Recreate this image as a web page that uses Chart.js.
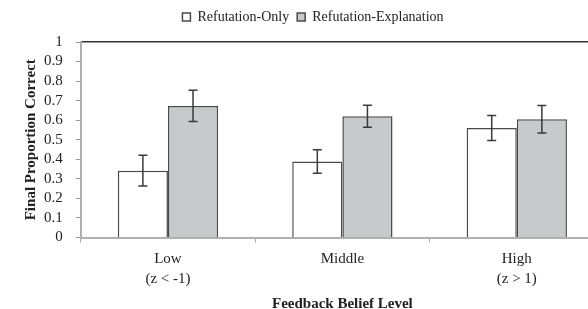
<!DOCTYPE html>
<html>
<head>
<meta charset="utf-8">
<script src="https://cdn.jsdelivr.net/npm/chart.js@4/dist/chart.umd.min.js"></script>
<style>
    html, body { margin: 0; padding: 0; background: #fff; }
    #wrap { width: 588px; height: 309px; overflow: hidden; position: relative; }
    #box { width: 620px; height: 309px; }
</style>
</head>
<body>
<div id="wrap"><div id="box"><canvas id="chart-feedback"></canvas></div></div>
<script>
// values
const categorias = [['Low', '(z < -1)'], ['Middle'], ['High', '(z > 1)']];
const refutacionSolo = [0.342, 0.389, 0.560];
const refutacionSoloError = [0.079, 0.060, 0.064];
const refutacionExplicacion = [0.673, 0.620, 0.605];
const refutacionExplicacionError = [0.080, 0.056, 0.070];
const ticksY = [0, 0.1, 0.2, 0.3, 0.4, 0.5, 0.6, 0.7, 0.8, 0.9, 1];

const fuente = 'Liberation Serif';

// error bars drawn from the y scale
const barrasError = {
    id: 'barrasError',
    afterDatasetsDraw(chart) {
        const ctx = chart.ctx;
        const y = chart.scales.y;
        ctx.save();
        ctx.strokeStyle = '#3a3a3a';
        ctx.lineWidth = 1.5;
        chart.data.datasets.forEach((ds, i) => {
            const meta = chart.getDatasetMeta(i);
            meta.data.forEach((bar, j) => {
                const v = ds.data[j];
                const e = ds.errores[j];
                const yArriba = y.getPixelForValue(v + e);
                const yAbajo = y.getPixelForValue(v - e);
                ctx.beginPath();
                ctx.moveTo(bar.x, yArriba);
                ctx.lineTo(bar.x, yAbajo);
                ctx.moveTo(bar.x - 4.5, yArriba);
                ctx.lineTo(bar.x + 4.5, yArriba);
                ctx.moveTo(bar.x - 4.5, yAbajo);
                ctx.lineTo(bar.x + 4.5, yAbajo);
                ctx.stroke();
            });
        });
        ctx.restore();
    }
};

new Chart(document.getElementById('chart-feedback'), {
    type: 'bar',
    data: {
        labels: categorias,
        datasets: [
            {
                label: 'Refutation-Only',
                data: refutacionSolo,
                errores: refutacionSoloError,
                backgroundColor: '#ffffff',
                borderColor: '#4a4a4a',
                borderWidth: 1.5
            },
            {
                label: 'Refutation-Explanation',
                data: refutacionExplicacion,
                errores: refutacionExplicacionError,
                backgroundColor: '#c8c9ca',
                borderColor: '#4a4a4a',
                borderWidth: 1.5
            }
        ]
    },
    options: {
        responsive: true,
        maintainAspectRatio: false,
        animation: false,
        categoryPercentage: 0.575,
        barPercentage: 1,
        layout: { padding: { top: 2, right: 16, left: 22, bottom: 0 } },
        plugins: {
            legend: {
                position: 'top',
                labels: {
                    boxWidth: 8,
                    boxHeight: 8,
                    padding: 8,
                    color: '#222',
                    font: { family: fuente, size: 14 }
                }
            },
            tooltip: { enabled: false }
        },
        scales: {
            x: {
                grid: { offset: true, drawOnChartArea: false, drawTicks: true, tickLength: 5, color: '#aaaaaa' },
                border: { color: '#b0b0b0', width: 2 },
                ticks: { color: '#222', padding: 6, font: { family: fuente, size: 15, lineHeight: 1.35 } },
                title: {
                    display: true,
                    text: 'Feedback Belief Level',
                    color: '#222',
                    padding: { top: 0, bottom: -4 },
                    font: { family: fuente, size: 15, weight: 'bold' }
                }
            },
            xArriba: {
                position: 'top',
                type: 'category',
                labels: categorias,
                grid: { display: false },
                border: { color: '#333333', width: 1.5 },
                ticks: { display: false }
            },
            y: {
                min: 0,
                max: 1,
                afterBuildTicks(scale) { scale.ticks = ticksY.map(v => ({ value: v })); },
                grid: { drawOnChartArea: false, drawTicks: true, tickLength: 5, color: '#999999' },
                border: { color: '#b0b0b0', width: 2 },
                ticks: {
                    color: '#222',
                    padding: 13,
                    autoSkip: false,
                    callback: v => String(Math.round(v * 10) / 10),
                    font: { family: fuente, size: 15 }
                },
                title: {
                    display: true,
                    text: 'Final Proportion Correct',
                    color: '#222',
                    padding: { top: 0, bottom: -9 },
                    font: { family: fuente, size: 15, weight: 'bold' }
                }
            }
        }
    },
    plugins: [barrasError]
});
</script>
</body>
</html>
